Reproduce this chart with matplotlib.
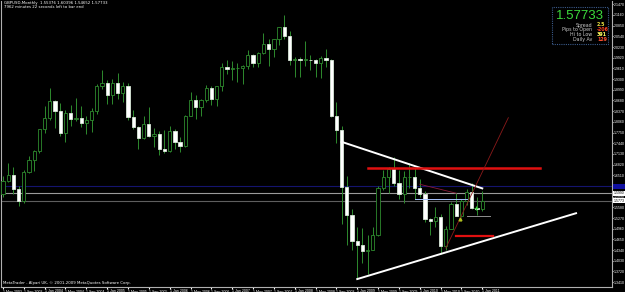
import matplotlib.pyplot as plt

# GBPUSD monthly bars, May 2003 .. Jan 2011
opens = [1.5960, 1.6350, 1.6510, 1.6110, 1.5770, 1.6600, 1.6940, 1.7200,
         1.7850, 1.8170, 1.8660, 1.8380, 1.7740, 1.8330, 1.8150, 1.8180, 1.8030, 1.8110, 1.8380, 1.9110,
         1.9200, 1.8830, 1.9200, 1.8890, 1.9100, 1.8200, 1.7910, 1.7600, 1.8000, 1.7650, 1.7710, 1.7260,
         1.7200, 1.7790, 1.7480, 1.7370, 1.8240, 1.8700, 1.8490, 1.8680, 1.9050, 1.8720, 1.9090, 1.9640,
         1.9580, 1.9610, 1.9620, 1.9670, 2.0000, 1.9780, 2.0070, 2.0310, 2.0160, 2.0450, 2.0810, 2.0560,
         1.9860, 1.9890, 1.9860, 1.9860, 1.9840, 1.9780, 1.9900, 1.9850, 1.8230, 1.7810, 1.6160, 1.5350,
         1.4590, 1.4480, 1.4320, 1.4340, 1.4790, 1.6150, 1.6450, 1.6700, 1.6290, 1.5980, 1.6450, 1.6460,
         1.6150, 1.5980, 1.5230, 1.5180, 1.5300, 1.4450, 1.4950, 1.5690, 1.5340, 1.5750, 1.6030, 1.5570,
         1.5538]
highs = [1.6480, 1.6880, 1.6740, 1.6200, 1.6660, 1.7080, 1.7230, 1.7860,
         1.8530, 1.9050, 1.8700, 1.8600, 1.8400, 1.8550, 1.8760, 1.8530, 1.8220, 1.8470, 1.9150, 1.9550,
         1.9260, 1.9300, 1.9470, 1.9230, 1.9190, 1.8400, 1.7930, 1.8220, 1.8500, 1.7880, 1.7790, 1.7820,
         1.7950, 1.7850, 1.7620, 1.8260, 1.8930, 1.8830, 1.8730, 1.9120, 1.9100, 1.9110, 1.9780, 1.9850,
         1.9830, 1.9780, 1.9710, 2.0130, 2.0020, 2.0090, 2.0650, 2.0460, 2.0470, 2.0820, 2.1160, 2.0690,
         1.9950, 1.9950, 2.0400, 2.0010, 1.9890, 1.9970, 2.0160, 1.9890, 1.8640, 1.7950, 1.6500, 1.5520,
         1.5010, 1.4980, 1.4780, 1.5000, 1.6190, 1.6660, 1.6740, 1.7040, 1.6660, 1.6640, 1.6880, 1.6710,
         1.6410, 1.6040, 1.5280, 1.5580, 1.5380, 1.5040, 1.5730, 1.5990, 1.5830, 1.6100, 1.6300, 1.5870,
         1.6040]
lows = [1.5890, 1.6310, 1.5960, 1.5620, 1.5720, 1.6570, 1.6640, 1.7160,
        1.7740, 1.8100, 1.7880, 1.7640, 1.7490, 1.7930, 1.8080, 1.7920, 1.7720, 1.7760, 1.8300, 1.9010,
        1.8590, 1.8570, 1.8730, 1.8630, 1.8120, 1.7860, 1.7280, 1.7550, 1.7620, 1.7330, 1.7100, 1.7150,
        1.7190, 1.7280, 1.7190, 1.7330, 1.8230, 1.8140, 1.8230, 1.8630, 1.8550, 1.8530, 1.8950, 1.9450,
        1.9270, 1.9210, 1.9160, 1.9600, 1.9660, 1.9640, 2.0030, 1.9690, 1.9930, 2.0300, 2.0470, 1.9720,
        1.9360, 1.9360, 1.9690, 1.9560, 1.9360, 1.9340, 1.9650, 1.8200, 1.7440, 1.5100, 1.4480, 1.4350,
        1.3500, 1.3980, 1.3660, 1.4330, 1.4760, 1.6090, 1.6010, 1.6200, 1.5830, 1.5710, 1.6140, 1.5830,
        1.5890, 1.5150, 1.4780, 1.5000, 1.4230, 1.4330, 1.4950, 1.5340, 1.5290, 1.5650, 1.5540, 1.5350,
        1.5465]
closes = [1.6350, 1.6510, 1.6110, 1.5770, 1.6600, 1.6940, 1.7200, 1.7850,
          1.8170, 1.8660, 1.8380, 1.7740, 1.8330, 1.8150, 1.8180, 1.8030, 1.8110, 1.8380, 1.9110, 1.9200,
          1.8830, 1.9200, 1.8890, 1.9100, 1.8200, 1.7910, 1.7600, 1.8000, 1.7650, 1.7710, 1.7260, 1.7200,
          1.7790, 1.7480, 1.7370, 1.8240, 1.8700, 1.8490, 1.8680, 1.9050, 1.8720, 1.9090, 1.9640, 1.9580,
          1.9610, 1.9620, 1.9670, 2.0000, 1.9780, 2.0070, 2.0310, 2.0160, 2.0450, 2.0810, 2.0560, 1.9860,
          1.9890, 1.9860, 1.9860, 1.9840, 1.9780, 1.9900, 1.9850, 1.8230, 1.7810, 1.6160, 1.5350, 1.4590,
          1.4480, 1.4320, 1.4340, 1.4790, 1.6150, 1.6450, 1.6700, 1.6290, 1.5980, 1.6450, 1.6460, 1.6150,
          1.5980, 1.5230, 1.5180, 1.5300, 1.4450, 1.4950, 1.5690, 1.5340, 1.5750, 1.6030, 1.5570, 1.5538,
          1.5773]

date_labels = ["1 May 2003", "1 Sep 2003", "1 Jan 2004", "1 May 2004", "1 Sep 2004", "1 Jan 2005",
               "1 May 2005", "1 Sep 2005", "1 Jan 2006", "1 May 2006", "1 Sep 2006", "1 Jan 2007",
               "1 May 2007", "1 Sep 2007", "1 Jan 2008", "1 May 2008", "1 Sep 2008", "1 Jan 2009",
               "1 May 2009", "1 Sep 2009", "1 Jan 2010", "1 May 2010", "1 Sep 2010", "1 Jan 2011"]
price_labels = [2.1470, 2.1160, 2.0850, 2.0540, 2.0230, 1.9920, 1.9610, 1.9300, 1.8990,
                1.8680, 1.8370, 1.8060, 1.7750, 1.7440, 1.7130, 1.6820, 1.6510, 1.6200,
                1.5890, 1.5580, 1.5270, 1.4960, 1.4650, 1.4340, 1.4030, 1.3720, 1.3410]

# hand-drawn objects on the chart: (bar index pair, price pair)
upper_trend = ([65, 92], [1.748, 1.613])
lower_trend = ([68, 110], [1.350, 1.541])
red_resist = ([70, 103], [1.672, 1.672])
red_support = ([87, 94], [1.474, 1.474])
red_ray = ([85, 97], [1.440, 1.818])
red_thin = ([80, 87], [1.625, 1.599])
blue_level = ([79, 89], [1.581, 1.581])
grey_level = ([89, 93.5], [1.534, 1.534])

bid = 1.57733
ask_line = 1.5990
blue_hline = 1.6190

small = 'Liberation Sans'

fig = plt.figure(figsize=(6.25, 2.92), dpi=100)
fig.patch.set_facecolor('black')
ax = fig.add_axes([1 / 625, 5 / 292, 611 / 625, 286 / 292])
ax.set_facecolor('black')
ax.set_xlim(-0.38, 116.9)
ax.set_ylim(1.327, 2.1565)

for s in ['left', 'right', 'bottom', 'top']:
    ax.spines[s].set_color('#b0b0b0')
    ax.spines[s].set_linewidth(0.8)
ax.spines['top'].set_visible(False)

# horizontal price lines
ax.axhline(blue_hline, color='#14146e', lw=0.8, zorder=1)
ax.axhline(ask_line, color='#9a9a9a', lw=0.8, zorder=1)
ax.axhline(bid, color='#5e5e5e', lw=0.8, zorder=1)

# candles
green = '#2e8b2e'
x = list(range(len(closes)))
ax.vlines(x, lows, highs, color=green, lw=0.7, zorder=2)
for i in x:
    bottom = min(opens[i], closes[i])
    height = max(abs(closes[i] - opens[i]), 0.0015)
    face = 'black' if closes[i] >= opens[i] else 'white'
    ax.bar(i, height, bottom=bottom, width=0.62, color=face,
           edgecolor=green if face == 'black' else '#d8e8d8', lw=0.6, zorder=3)

# drawn objects
ax.plot(*upper_trend, color='white', lw=1.4, zorder=4)
ax.plot(*lower_trend, color='white', lw=1.4, zorder=4)
ax.plot(*red_resist, color='#e01010', lw=1.8, zorder=4)
ax.plot(*red_support, color='#e01010', lw=1.6, zorder=4)
ax.plot(*red_ray, color='#8b1a1a', lw=0.6, zorder=4)
ax.plot(*red_thin, color='#8b1a3a', lw=0.6, zorder=4)
ax.plot(*blue_level, color='#a8c4ff', lw=0.7, zorder=4)
ax.plot(*grey_level, color='#909090', lw=0.7, zorder=4)
ax.plot([87.7], [1.5235], marker='^', ms=2, color='#b0c020', zorder=5)
ax.plot([90.8], [1.555], marker='+', ms=3, color='#40d040', mew=0.8, zorder=5)

# date axis
ax.set_xticks(range(0, len(closes), 4))
ax.set_xticklabels(date_labels, fontsize=2.6, color='white', ha='left', family=small)
ax.tick_params(axis='x', direction='out', length=1.5, color='white', pad=0.3)

# price axis
ax.yaxis.tick_right()
ax.set_yticks(price_labels)
ax.set_yticklabels(['%.4f' % p for p in price_labels], fontsize=2.5, color='white', family=small)
ax.tick_params(axis='y', direction='out', length=1.0, color='white', pad=0.6)

# highlighted price labels on the axis
for level, fc, tc in [(blue_hline, '#1010a0', '#1010a0'), (ask_line, 'white', 'black'),
                      (bid, 'white', 'black')]:
    ax.text(1.003, level, '%.4f' % level, transform=ax.get_yaxis_transform(),
            fontsize=2.5, color=tc, va='center', ha='left', family=small,
            bbox=dict(boxstyle='square,pad=0.15', fc=fc, ec='none'))

# header and footer texts
fig.text(4 / 625, 1 - 3 / 292, 'GBPUSD,Monthly  1.55376 1.60396 1.54652 1.57733',
         fontsize=2.8, color='white', va='center')
fig.text(4 / 625, 1 - 7.5 / 292, '7962 minutes 22 seconds left to bar end',
         fontsize=2.8, color='white', va='center')
fig.text(3 / 625, 1 - 283 / 292, 'MetaTrader - Alpari UK, \u00a9 2001-2009 MetaQuotes Software Corp.',
         fontsize=2.8, color='white', va='center')

# info panel
panel = plt.Rectangle((552 / 625, 1 - 44 / 292), 56 / 625, 37 / 292, transform=fig.transFigure,
                      fill=False, ec='#3a5a8a', lw=0.8, ls=(0, (1, 1)))
fig.add_artist(panel)
fig.text(580 / 625, 1 - 16 / 292, '1.57733', fontsize=9.5, color='#3cdc3c',
         family='Liberation Sans', ha='center', va='center')
info_names = ['Spread', 'Pips to Open', 'Hi to Low', 'Daily Av']
info_values = ['2.5', '-206', '391', '129']
info_colors = ['#e8e040', '#ff4020', '#ffff60', '#ff5030']
for k in range(4):
    yy = 1 - (25 + 4.8 * k) / 292
    fig.text(592 / 625, yy, info_names[k], fontsize=3.4, color='#c8c8c8', ha='right', va='center')
    fig.text(597 / 625, yy, info_values[k], fontsize=3.4, color=info_colors[k], ha='left', va='center',
             fontweight='bold')

fig.savefig('out.png', dpi=100, facecolor='black')
